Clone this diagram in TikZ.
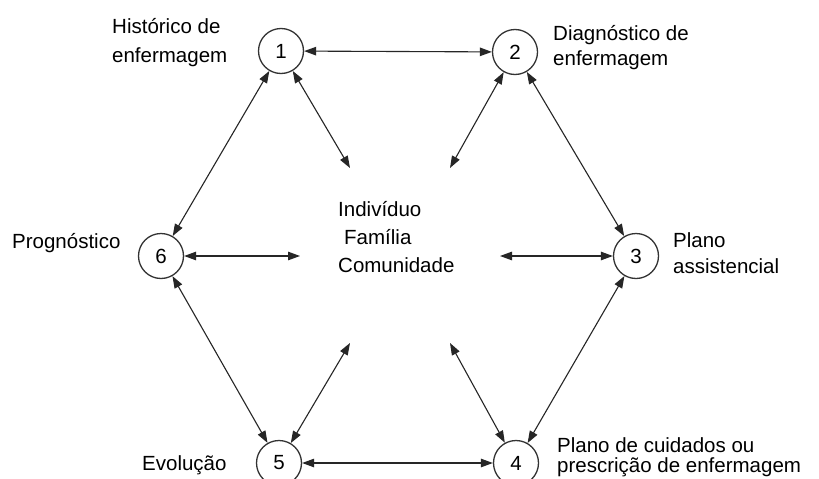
\documentclass[tikz,border=0pt]{standalone}
\usepackage{fontspec}
\setmainfont{Liberation Sans}
\usetikzlibrary{arrows.meta}
\begin{document}
\begin{tikzpicture}[x=1pt,y=-1pt,
  stage/.style={circle,draw=black!80,line width=1.3pt,minimum size=45pt,inner sep=0pt,font=\fontsize{20.5}{25}\selectfont},
  lbl/.style={anchor=base west,align=left,inner sep=0pt,font=\fontsize{20.5}{25}\selectfont},
  arr/.style={black!85,line width=1.1pt,{Triangle[length=12pt,width=8.5pt]}-{Triangle[length=12pt,width=8.5pt]}}]
\useasboundingbox[fill=white] (0,0) rectangle (819,479);
% stages
\node[stage] (n1) at (281,51) {1};
\node[stage] (n2) at (515,52) {2};
\node[stage] (n3) at (636,256) {3};
\node[stage] (n4) at (516,463) {4};
\node[stage] (n5) at (279,463) {5};
\node[stage] (n6) at (161,256) {6};
% labels
\node[lbl] (l1) at (112,62) {Histórico de\\[4pt]enfermagem};
\node[lbl] (l2) at (553,65) {Diagnóstico de\\enfermagem};
\node[lbl] (l3) at (673,273) {Plano\\[1pt]assistencial};
\node[lbl] (l4) at (557,472) {Plano de cuidados ou\\[-5pt]prescrição de enfermagem};
\node[lbl] (l5) at (142,470) {Evolução};
\node[lbl] (l6) at (12,248) {Prognóstico};
\node[lbl,font=\fontsize{20.5}{28}\selectfont] (ctr) at (338,272) {Indivíduo\\\hspace{6pt}Família\\Comunidade};
% free ends near the centre
\coordinate (c1) at (350,168);
\coordinate (c2) at (450,168);
\coordinate (c3) at (500,256);
\coordinate (c4) at (450,343);
\coordinate (c5) at (350,343);
\coordinate (c6) at (300,256);
% connectors
\draw[arr] (n1) -- (n2);
\draw[arr] (n2) -- (n3);
\draw[arr] (n3) -- (n4);
\draw[arr] (n4) -- (n5);
\draw[arr] (n5) -- (n6);
\draw[arr] (n6) -- (n1);
\draw[arr] (n1) -- (c1);
\draw[arr] (n2) -- (c2);
\draw[arr] (n3) -- (c3);
\draw[arr] (n4) -- (c4);
\draw[arr] (n5) -- (c5);
\draw[arr] (n6) -- (c6);
\end{tikzpicture}
\end{document}
